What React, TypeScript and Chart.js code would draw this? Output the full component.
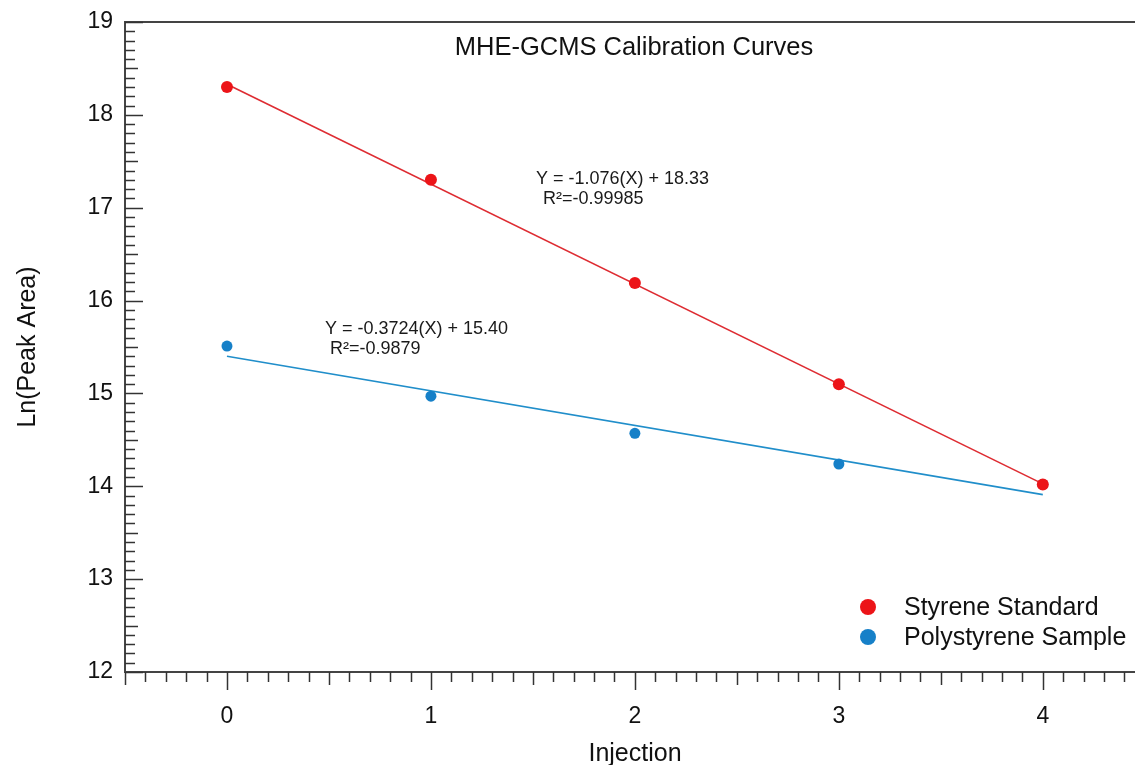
import React, { useEffect, useRef } from "react";
import { Chart, registerables } from "chart.js";

Chart.register(...registerables);

const injections = [0, 1, 2, 3, 4];
const styreneStandard = [18.3, 17.3, 16.19, 15.1, 14.02];
const polystyreneSample = [15.51, 14.97, 14.57, 14.24, 14.02];
const fitX = [0, 4];
const styreneFit = [18.33, 14.026];
const polystyreneFit = [15.4, 13.91];
const xTickValues = [0, 1, 2, 3, 4];
const yTickValues = [12, 13, 14, 15, 16, 17, 18, 19];

const chartTitle = "MHE-GCMS Calibration Curves";
const xTitle = "Injection";
const yTitle = "Ln(Peak Area)";
const seriesNames = ["Styrene Standard", "Polystyrene Sample"];
const equations = [
  ["Y = -1.076(X) + 18.33", "R²=-0.99985"],
  ["Y = -0.3724(X) + 15.40", "R²=-0.9879"],
];

const RED = "rgb(236,20,24)";
const RED_LINE = "rgb(222,44,50)";
const BLUE = "rgb(22,128,200)";
const BLUE_LINE = "rgb(32,142,202)";
const FONT = "'Liberation Sans', Arial, sans-serif";

const decorPlugin = {
  id: "decor",
  afterDraw(chart: any) {
    const ctx = chart.ctx as CanvasRenderingContext2D;
    const area = chart.chartArea;
    const xs = chart.scales.x;
    const ys = chart.scales.y;
    ctx.save();
    // top frame line
    ctx.strokeStyle = "#444";
    ctx.lineWidth = 2;
    ctx.beginPath();
    ctx.moveTo(area.left, area.top);
    ctx.lineTo(area.right, area.top);
    ctx.stroke();

    // x ticks (outward)
    ctx.lineWidth = 1.5;
    ctx.strokeStyle = "#333";
    for (let i = -5; i <= 44; i++) {
      const v = i / 10;
      const px = Math.round(xs.getPixelForValue(v)) + 0.5;
      const len = i % 10 === 0 ? 18 : i % 5 === 0 ? 13 : 10;
      ctx.beginPath();
      ctx.moveTo(px, area.bottom);
      ctx.lineTo(px, area.bottom + len);
      ctx.stroke();
    }
    // y ticks (inward)
    for (let i = 120; i <= 190; i++) {
      const v = i / 10;
      const py = Math.round(ys.getPixelForValue(v)) + 0.5;
      const len = i % 10 === 0 ? 18 : i % 5 === 0 ? 13 : 10;
      ctx.beginPath();
      ctx.moveTo(area.left, py);
      ctx.lineTo(area.left + len, py);
      ctx.stroke();
    }

    ctx.fillStyle = "#111";
    // chart title
    ctx.font = `25.5px ${FONT}`;
    ctx.textAlign = "center";
    ctx.textBaseline = "middle";
    ctx.fillText(chartTitle, (area.left + area.right) / 2 + 4, 48);

    // x title
    ctx.font = `25px ${FONT}`;
    ctx.fillText(xTitle, (area.left + area.right) / 2 + 5, 754);

    // y title
    ctx.save();
    ctx.translate(28, 347);
    ctx.rotate(-Math.PI / 2);
    ctx.fillText(yTitle, 0, 0);
    ctx.restore();

    // equations
    ctx.font = `18px ${FONT}`;
    ctx.textAlign = "left";
    ctx.fillStyle = "#1a1a1a";
    ctx.fillText(equations[0][0], 536, 179);
    ctx.fillText(equations[0][1], 543, 199);
    ctx.fillText(equations[1][0], 325, 329);
    ctx.fillText(equations[1][1], 330, 349);

    // legend
    const legendColors = [RED, BLUE];
    ctx.font = `25px ${FONT}`;
    seriesNames.forEach((name, i) => {
      const cy = 607 + i * 30;
      ctx.fillStyle = legendColors[i];
      ctx.beginPath();
      ctx.arc(868, cy, 8, 0, Math.PI * 2);
      ctx.fill();
      ctx.fillStyle = "#111";
      ctx.fillText(name, 904, cy + 1);
    });
    ctx.restore();
  },
};

export default function App() {
  const canvasRef = useRef<HTMLCanvasElement | null>(null);

  useEffect(() => {
    const canvas = canvasRef.current;
    if (!canvas) return;
    const tickFont = { family: FONT, size: 23 };
    const chart = new Chart(canvas, {
      type: "scatter",
      data: {
        datasets: [
          {
            label: seriesNames[0],
            data: injections.map((x, i) => ({ x, y: styreneStandard[i] })),
            backgroundColor: RED,
            borderWidth: 0,
            pointRadius: 6,
            order: 0,
          },
          {
            label: seriesNames[1],
            data: injections.map((x, i) => ({ x, y: polystyreneSample[i] })),
            backgroundColor: BLUE,
            borderWidth: 0,
            pointRadius: 5.5,
            order: 0,
          },
          {
            type: "line",
            label: "fit1",
            data: fitX.map((x, i) => ({ x, y: styreneFit[i] })),
            borderColor: RED_LINE,
            borderWidth: 1.6,
            pointRadius: 0,
            fill: false,
            order: 1,
          },
          {
            type: "line",
            label: "fit2",
            data: fitX.map((x, i) => ({ x, y: polystyreneFit[i] })),
            borderColor: BLUE_LINE,
            borderWidth: 1.6,
            pointRadius: 0,
            fill: false,
            order: 1,
          },
        ] as any,
      },
      options: {
        animation: false,
        responsive: false,
        devicePixelRatio: 1,
        layout: { autoPadding: false, padding: { top: 22, left: 0, right: 0, bottom: 0 } },
        plugins: {
          legend: { display: false },
          tooltip: { enabled: false },
          title: { display: false },
        },
        scales: {
          x: {
            type: "linear",
            min: -0.5,
            max: 4.452,
            afterBuildTicks: (s: any) => {
              s.ticks = xTickValues.map((v) => ({ value: v }));
            },
            afterFit: (s: any) => {
              s.height = 93;
              s.paddingLeft = 0;
              s.paddingRight = 0;
            },
            ticks: {
              font: tickFont,
              color: "#111",
              padding: 31,
              maxRotation: 0,
              autoSkip: false,
            },
            grid: {
              display: true,
              drawOnChartArea: false,
              drawTicks: false,
              color: "rgba(0,0,0,0)",
            },
            border: { display: true, color: "#444", width: 2 },
          },
          y: {
            type: "linear",
            min: 12,
            max: 19,
            afterBuildTicks: (s: any) => {
              s.ticks = yTickValues.map((v) => ({ value: v }));
            },
            afterFit: (s: any) => {
              s.width = 125;
              s.paddingTop = 0;
              s.paddingBottom = 0;
            },
            ticks: {
              font: tickFont,
              color: "#111",
              padding: 12,
              autoSkip: false,
            },
            grid: {
              display: true,
              drawOnChartArea: false,
              drawTicks: false,
              color: "rgba(0,0,0,0)",
            },
            border: { display: true, color: "#444", width: 2 },
          },
        },
      } as any,
      plugins: [decorPlugin],
    });
    return () => chart.destroy();
  }, []);

  return (
    <div style={{ position: "fixed", left: 0, top: 0, width: 1135, height: 765, background: "#fff" }}>
      <canvas ref={canvasRef} width={1135} height={765} style={{ width: 1135, height: 765, display: "block" }} />
    </div>
  );
}
